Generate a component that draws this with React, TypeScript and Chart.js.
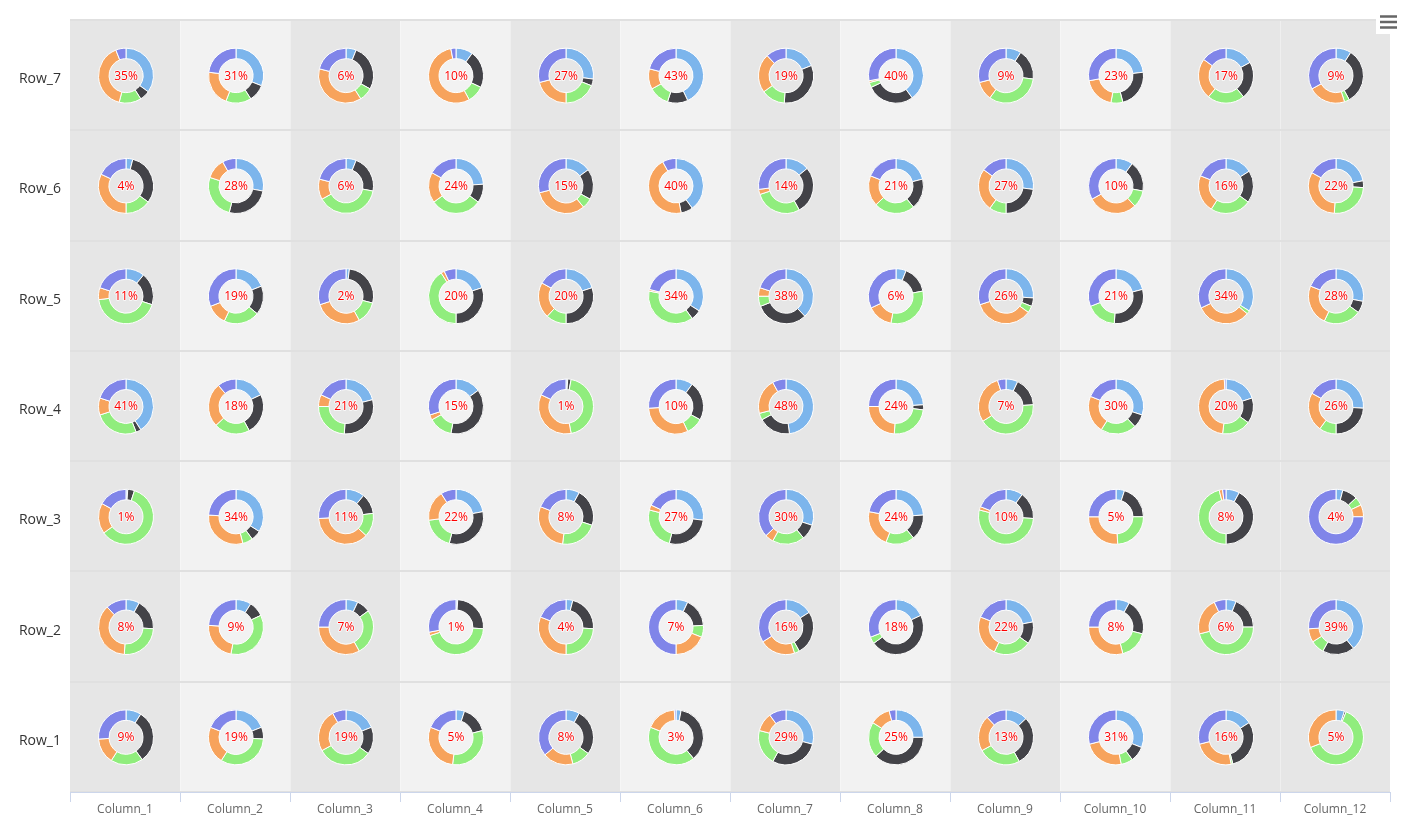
import React, { useEffect, useRef } from 'react';
import { Chart, registerables, ArcElement } from 'chart.js';

Chart.register(...registerables);

const columns = ['Column_1', 'Column_2', 'Column_3', 'Column_4', 'Column_5', 'Column_6', 'Column_7', 'Column_8', 'Column_9', 'Column_10', 'Column_11', 'Column_12'];
const rows = ['Row_1', 'Row_2', 'Row_3', 'Row_4', 'Row_5', 'Row_6', 'Row_7'];

// each series: one array per row (Row_1 first), one value per column
const seriesBlue = [
  [9, 19, 19, 5, 8, 3, 29, 25, 13, 31, 16, 5],
  [8, 9, 7, 1, 4, 7, 16, 18, 22, 8, 6, 39],
  [1, 34, 11, 22, 8, 27, 30, 24, 10, 5, 8, 4],
  [41, 18, 21, 15, 1, 10, 48, 24, 7, 30, 20, 26],
  [11, 19, 2, 20, 20, 34, 38, 6, 26, 21, 34, 28],
  [4, 28, 6, 24, 15, 40, 14, 21, 27, 10, 16, 22],
  [35, 31, 6, 10, 27, 43, 19, 40, 9, 23, 17, 9],
];
const seriesDark = [
  [31, 7, 16, 16, 27, 36, 29, 38, 29, 9, 30, 1],
  [18, 9, 8, 25, 22, 17, 26, 47, 13, 21, 19, 19],
  [4, 6, 12, 32, 22, 27, 9, 15, 16, 20, 42, 9],
  [3, 24, 30, 38, 2, 23, 19, 3, 17, 8, 15, 24],
  [19, 17, 27, 30, 30, 6, 31, 16, 5, 30, 0, 7],
  [31, 26, 22, 11, 18, 7, 28, 18, 23, 18, 19, 4],
  [6, 10, 27, 22, 4, 12, 32, 28, 18, 23, 22, 33],
];
const seriesGreen = [
  [19, 33, 32, 31, 11, 42, 21, 21, 25, 7, 1, 63],
  [25, 35, 27, 44, 24, 7, 3, 4, 22, 17, 46, 8],
  [60, 6, 14, 19, 22, 25, 19, 17, 53, 24, 46, 5],
  [26, 21, 24, 14, 44, 10, 4, 24, 42, 21, 17, 10],
  [43, 21, 13, 41, 12, 38, 6, 31, 4, 18, 2, 22],
  [15, 26, 39, 30, 6, 0, 28, 24, 10, 10, 24, 25],
  [13, 15, 8, 10, 19, 12, 14, 3, 33, 7, 22, 3],
];
const seriesOrange = [
  [15, 22, 25, 29, 18, 18, 11, 12, 21, 24, 24, 31],
  [37, 23, 33, 2, 31, 19, 21, 0, 24, 29, 22, 8],
  [18, 30, 37, 18, 29, 3, 5, 22, 2, 26, 2, 7],
  [10, 26, 7, 3, 35, 31, 21, 24, 29, 22, 47, 23],
  [7, 12, 28, 2, 21, 1, 5, 15, 35, 0, 32, 24],
  [32, 12, 12, 18, 32, 45, 3, 18, 25, 29, 22, 32],
  [40, 21, 38, 55, 21, 12, 23, 1, 11, 19, 24, 22],
];
const seriesPurple = [
  [26, 19, 8, 19, 36, 1, 10, 4, 12, 29, 29, 0],
  [12, 24, 25, 28, 19, 50, 34, 31, 19, 25, 7, 26],
  [17, 24, 26, 9, 19, 18, 37, 22, 19, 25, 2, 75],
  [20, 11, 18, 30, 18, 26, 8, 25, 5, 19, 1, 17],
  [20, 31, 30, 7, 17, 21, 20, 32, 30, 31, 32, 19],
  [18, 8, 21, 17, 29, 8, 27, 19, 15, 33, 19, 17],
  [6, 23, 21, 3, 29, 21, 12, 28, 29, 28, 15, 33],
];

const sliceColors = ['#7cb5ec', '#434348', '#90ed7d', '#f7a35c', '#8085e9'];
const columnFills = ['#e6e6e6', '#f2f2f2', '#e6e6e6', '#f2f2f2', '#e6e6e6', '#f2f2f2', '#e6e6e6', '#f2f2f2', '#e6e6e6', '#f2f2f2', '#e6e6e6', '#e6e6e6'];

const FONT = '"Open Sans", "DejaVu Sans", Arial, sans-serif';

export default function App() {
  const ref = useRef<HTMLCanvasElement>(null);

  useEffect(() => {
    const canvas = ref.current;
    if (!canvas) return;
    const allSeries = [seriesBlue, seriesDark, seriesGreen, seriesOrange, seriesPurple];
    const points: any[] = [];
    const cells: number[][] = [];
    rows.forEach((r, ri) => {
      columns.forEach((c, ci) => {
        points.push({ x: c, y: r });
        cells.push(allSeries.map((s) => s[ri][ci]));
      });
    });

    const gridPlugin = {
      id: 'cellBackground',
      beforeDraw(chart: any) {
        const { ctx, chartArea } = chart;
        const xs = chart.scales.x;
        ctx.save();
        columnFills.forEach((fill, i) => {
          const l = i === 0 ? chartArea.left : (xs.getPixelForValue(i - 1) + xs.getPixelForValue(i)) / 2;
          const r = i === columnFills.length - 1 ? chartArea.right : (xs.getPixelForValue(i) + xs.getPixelForValue(i + 1)) / 2;
          ctx.fillStyle = fill;
          ctx.fillRect(l, chartArea.top, r - l, chartArea.bottom - chartArea.top);
        });
        ctx.strokeStyle = 'rgba(255,255,255,0.35)';
        ctx.lineWidth = 1;
        for (let i = 1; i < columnFills.length; i++) {
          const x = Math.round((xs.getPixelForValue(i - 1) + xs.getPixelForValue(i)) / 2) + 0.5;
          ctx.beginPath();
          ctx.moveTo(x, chartArea.top);
          ctx.lineTo(x, chartArea.bottom);
          ctx.stroke();
        }
        ctx.restore();
      },
    };

    const donutPlugin = {
      id: 'donuts',
      afterDatasetsDraw(chart: any) {
        const ctx = chart.ctx;
        const meta = chart.getDatasetMeta(0);
        meta.data.forEach((pt: any, i: number) => {
          const vals = cells[i];
          const total = vals.reduce((a, b) => a + b, 0);
          const cx = pt.x + 1;
          const cy = pt.y + 0.5;
          let angle = -Math.PI / 2;
          vals.forEach((v, k) => {
            if (v <= 0) return;
            const sweep = (v / total) * Math.PI * 2;
            const arc: any = new (ArcElement as any)({
              x: cx,
              y: cy,
              startAngle: angle,
              endAngle: angle + sweep,
              circumference: sweep,
              innerRadius: 17,
              outerRadius: 27.5,
              options: {
                backgroundColor: sliceColors[k],
                borderColor: '#ffffff',
                borderWidth: 1,
                borderAlign: 'center',
                borderJoinStyle: 'round',
                borderDash: [],
                borderDashOffset: 0,
                borderRadius: 0,
                offset: 0,
                spacing: 0,
                circular: true,
                selfJoin: false,
              },
            });
            arc.draw(ctx);
            angle += sweep;
          });
          const label = Math.round((vals[0] / total) * 100) + '%';
          ctx.save();
          ctx.font = `12px ${FONT}`;
          ctx.textAlign = 'center';
          ctx.textBaseline = 'middle';
          ctx.lineJoin = 'round';
          ctx.strokeStyle = 'rgba(255,255,255,0.7)';
          ctx.lineWidth = 2;
          ctx.strokeText(label, cx, cy + 0.5);
          ctx.fillStyle = '#ff0000';
          ctx.fillText(label, cx, cy + 0.5);
          ctx.restore();
        });
      },
      afterDraw(chart: any) {
        const ctx = chart.ctx;
        ctx.save();
        ctx.fillStyle = '#ffffff';
        ctx.fillRect(1376, 10, 24, 24);
        ctx.strokeStyle = '#666666';
        ctx.lineWidth = 2.5;
        [16.5, 22, 27.5].forEach((y) => {
          ctx.beginPath();
          ctx.moveTo(1380, y);
          ctx.lineTo(1397, y);
          ctx.stroke();
        });
        ctx.restore();
      },
    };

    const chart = new Chart(canvas, {
      type: 'scatter',
      data: {
        datasets: [
          {
            data: points,
            pointRadius: 0,
            pointHoverRadius: 0,
            showLine: false,
          },
        ],
      },
      options: {
        responsive: false,
        animation: false,
        devicePixelRatio: 1,
        events: [],
        layout: { padding: { left: 0, top: 20, right: 23, bottom: 0 } },
        plugins: {
          legend: { display: false },
          tooltip: { enabled: false },
        },
        scales: {
          x: {
            type: 'category',
            labels: columns,
            offset: true,
            afterFit: (scale: any) => {
              scale.height = 35;
            },
            grid: {
              offset: true,
              drawOnChartArea: false,
              drawTicks: true,
              tickLength: 10,
              color: '#ccd6eb',
              lineWidth: 1,
            },
            border: { display: true, color: '#ccd6eb', width: 1 },
            ticks: {
              autoSkip: false,
              maxRotation: 0,
              padding: 0,
              color: '#666666',
              font: { family: FONT, size: 12 },
            },
          },
          y: {
            type: 'category',
            labels: rows,
            reverse: true,
            offset: true,
            afterFit: (scale: any) => {
              scale.width = 70;
            },
            grid: {
              offset: true,
              drawTicks: false,
              color: '#e0e0e0',
              lineWidth: 2,
            },
            border: { display: false },
            ticks: {
              autoSkip: false,
              padding: 9,
              labelOffset: 4,
              color: '#333333',
              font: { family: FONT, size: 14 },
            },
          },
        },
      } as any,
      plugins: [gridPlugin, donutPlugin],
    });

    return () => {
      chart.destroy();
    };
  }, []);

  return (
    <div style={{ position: 'fixed', left: 0, top: 0, width: 1413, height: 827, background: '#ffffff' }}>
      <canvas ref={ref} width={1413} height={827} style={{ display: 'block', width: 1413, height: 827 }} />
    </div>
  );
}
